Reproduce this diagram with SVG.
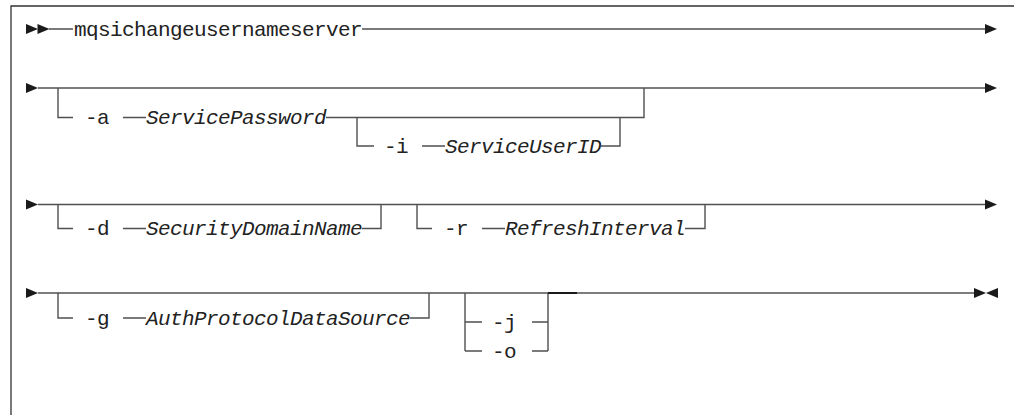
<svg xmlns="http://www.w3.org/2000/svg" width="1014" height="415" viewBox="0 0 1014 415">
<style>
.ln{fill:none;stroke:#505050;stroke-width:1.4}
.fr{fill:none;stroke:#333;stroke-width:1.3}
.kw{font-family:"Liberation Mono","DejaVu Sans Mono",monospace;font-size:21px;letter-spacing:-0.6px;fill:#222}
.it{font-family:"Liberation Mono","DejaVu Sans Mono",monospace;font-size:21px;letter-spacing:-0.6px;font-style:italic;fill:#222}
.ah{fill:#1a1a1a}
</style>
<defs>
<path id="tri" d="M0,-5 L12,0 L0,5 Z"/>
<path id="tril" d="M0,0 L12,-5 L12,5 Z"/>
</defs>
<rect width="1014" height="415" fill="#fff"/>
<path class="fr" d="M11,415 V6 H1014"/>
<g id="connectors">
<path class="ln" d="M49,29 H73 M362,29 H986"/>
<path class="ln" d="M38,88 H986"/>
<path class="ln" d="M58,88 V117.5 H73 M123,117.5 H146 M326,117.5 H644 V88"/>
<path class="ln" d="M357,117.5 V146 H374 M422,146 H445 M601,146 H620 V117.5"/>
<path class="ln" d="M38,204.5 H986"/>
<path class="ln" d="M58,204.5 V228.5 H73 M123,228.5 H146 M362,228.5 H381 V204.5"/>
<path class="ln" d="M417,204.5 V228.5 H432 M482,228.5 H505 M685,228.5 H705 V204.5"/>
<path class="ln" d="M38,293 H975"/>
<path class="ln" d="M58,293 V318 H73 M123,318 H146 M410,318 H429 V293"/>
<path class="ln" d="M465,293 V351 M465,322 H482 M465,351 H482 M532,322 H548 M532,351 H548 M548,293 V351"/>
<path d="M548,293 H577" fill="none" stroke="#1a1a1a" stroke-width="2"/>
</g>
<g id="start-end-marks">
<use href="#tri" class="ah" x="26" y="29"/>
<use href="#tri" class="ah" x="37.5" y="29"/>
<use href="#tri" class="ah" x="985" y="29"/>
<use href="#tri" class="ah" x="26" y="88"/>
<use href="#tri" class="ah" x="985" y="88"/>
<use href="#tri" class="ah" x="26" y="204.5"/>
<use href="#tri" class="ah" x="985" y="204.5"/>
<use href="#tri" class="ah" x="26" y="293"/>
<use href="#tri" class="ah" x="974" y="293"/>
<use href="#tril" class="ah" x="986" y="293"/>
</g>
<g id="cmd"><text class="kw" x="74" y="36">mqsichangeusernameserver</text></g>
<g id="opt-a"><text class="kw" x="85" y="124">-a</text><text class="it" x="146" y="124">ServicePassword</text></g>
<g id="opt-i"><text class="kw" x="384" y="152.5">-i</text><text class="it" x="445" y="152.5">ServiceUserID</text></g>
<g id="opt-d"><text class="kw" x="85" y="235">-d</text><text class="it" x="146" y="235">SecurityDomainName</text></g>
<g id="opt-r"><text class="kw" x="444" y="235">-r</text><text class="it" x="505" y="235">RefreshInterval</text></g>
<g id="opt-g"><text class="kw" x="85" y="324.5">-g</text><text class="it" x="146" y="324.5">AuthProtocolDataSource</text></g>
<g id="opt-j"><text class="kw" x="492" y="328.5">-j</text></g>
<g id="opt-o"><text class="kw" x="492" y="357.5">-o</text></g>
</svg>
